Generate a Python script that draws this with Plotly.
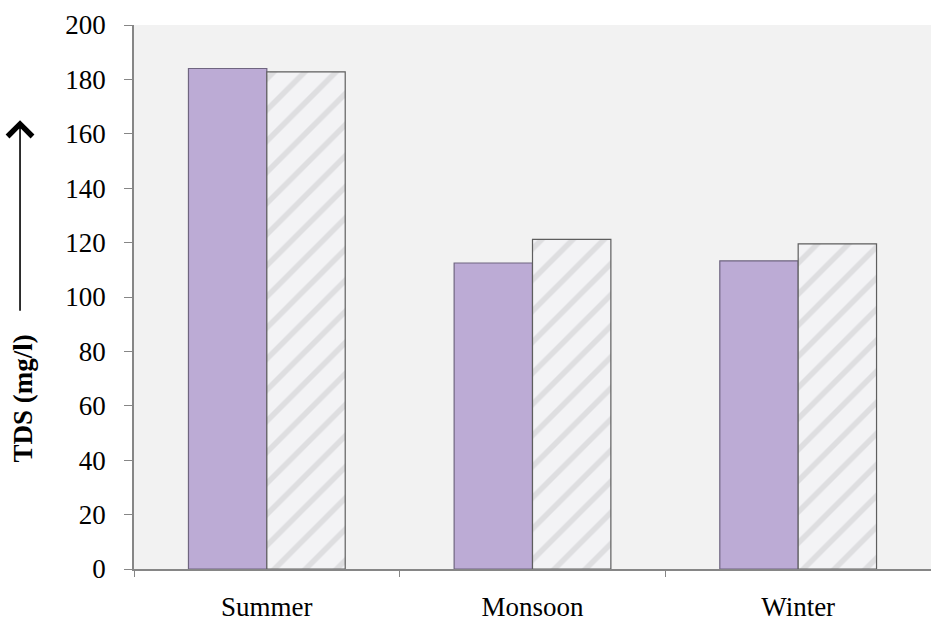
import plotly.graph_objects as go

# Seasonal total dissolved solids, two sampling series
seasons = ["Summer", "Monsoon", "Winter"]
series_a = [184, 112.5, 113.3]
series_b = [182.8, 121.2, 119.5]
y_ticks = [0, 20, 40, 60, 80, 100, 120, 140, 160, 180, 200]

serif = "Liberation Serif, Times New Roman, serif"

fig = go.Figure()
fig.add_trace(go.Bar(
    x=seasons, y=series_a, name="Series A",
    marker=dict(color="#bcabd5", line=dict(color="#6f6580", width=1.2)),
))
fig.add_trace(go.Bar(
    x=seasons, y=series_b, name="Series B",
    marker=dict(
        color="#ececee",
        line=dict(color="#5e5e5e", width=1.2),
        pattern=dict(shape="/", fgcolor="#8e8e94", bgcolor="#f3f3f5",
                     fgopacity=0.22, size=22, solidity=0.25),
    ),
))

fig.update_layout(
    width=931, height=621,
    margin=dict(l=134, r=0, t=25, b=52),
    paper_bgcolor="white",
    plot_bgcolor="#f2f2f2",
    barmode="group",
    bargap=0.41,
    bargroupgap=0,
    showlegend=False,
    font=dict(family=serif, color="#000"),
)

fig.update_xaxes(
    showgrid=False, showline=True, linecolor="#868686", linewidth=1.5,
    ticks="outside", tickson="boundaries", ticklen=6, tickcolor="#868686",
    tickfont=dict(family=serif, size=27, color="#000"),
    ticklabelstandoff=13,
)
fig.update_yaxes(
    range=[0, 200], tickvals=y_ticks, showgrid=False,
    showline=True, linecolor="#868686", linewidth=1.5,
    ticks="outside", ticklen=8, tickcolor="#868686",
    tickfont=dict(family=serif, size=27, color="#000"),
    ticklabelstandoff=13, zeroline=False,
)

# Axis title with upward arrow
fig.add_annotation(
    text="<b>TDS (mg/l)</b>", textangle=-90,
    xref="paper", yref="paper", x=-0.139, y=0.314,
    xanchor="center", yanchor="middle",
    showarrow=False, font=dict(family=serif, size=27, color="#000"),
)
fig.add_annotation(
    text="", xref="paper", yref="paper", x=-0.143, y=0.825,
    axref="pixel", ayref="pixel", ax=0, ay=192,
    showarrow=True, arrowhead=4, arrowsize=3, arrowwidth=1.6,
    arrowcolor="black",
)

fig.write_html("out.html")
